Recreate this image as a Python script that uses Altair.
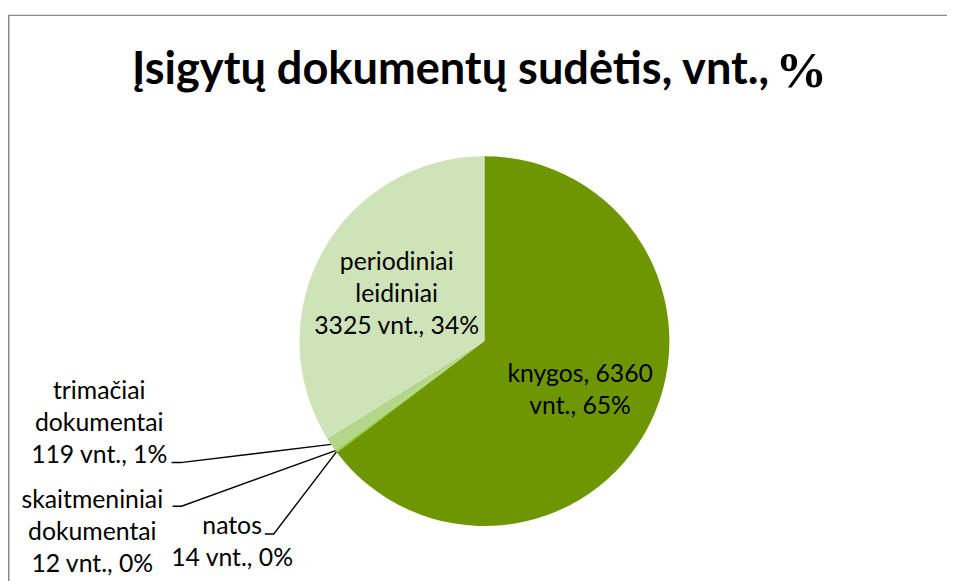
import math
import altair as alt
import pandas as pd

# ---- data ----
categories = ["knygos", "natos", "skaitmeniniai dokumentai", "trimačiai dokumentai", "periodiniai leidiniai"]
values = [6360, 14, 12, 119, 3325]
percent_labels = ["65%", "0%", "0%", "1%", "34%"]
label_texts = [
    "knygos, 6360\nvnt., 65%",
    "natos\n14 vnt., 0%",
    "skaitmeniniai\ndokumentai\n12 vnt., 0%",
    "trimačiai\ndokumentai\n119 vnt., 1%",
    "periodiniai\nleidiniai\n3325 vnt., 34%",
]
colors = ["#6E9600", "#8DC63F", "#9ACD4A", "#B3D68A", "#CFE3B9"]
title_text = "Įsigytų dokumentų sudėtis, vnt., "

# ---- layout (chart coordinates = page coordinates - 8) ----
W, H = 947, 573
CX, CY, R = 480.5, 333.5, 186.5
label_pos = [(577, 367), (226, 520), (85, 494), (92, 384), (392, 254)]
leader_start = {1: (259, 528), 2: (166, 500), 3: (165, 456)}

df = pd.DataFrame({
    "cat": categories,
    "value": values,
    "order": list(range(len(categories))),
    "label": label_texts,
    "lx": [p[0] for p in label_pos],
    "ly": [p[1] for p in label_pos],
})

# leader lines: from label anchor to slice edge at its mid-angle
total = sum(values)
rows = []
cum = 0
for i, v in enumerate(values):
    mid = (cum + v / 2) / total * 2 * math.pi
    cum += v
    if i in leader_start:
        sx, sy = leader_start[i]
        ex = CX + R * math.sin(mid)
        ey = CY - R * math.cos(mid)
        rows += [
            {"id": i, "k": 0, "x": sx, "y": sy},
            {"id": i, "k": 1, "x": sx + 9, "y": sy},
            {"id": i, "k": 2, "x": ex, "y": ey},
        ]
leaders = pd.DataFrame(rows)

frame_top = alt.Chart(pd.DataFrame({"a": [0]})).mark_rule(
    color="#8a8a8a", strokeWidth=1.5
).encode(x=alt.value(0), x2=alt.value(W + 60), y=alt.value(5))
frame_left = alt.Chart(pd.DataFrame({"a": [0]})).mark_rule(
    color="#8a8a8a", strokeWidth=1.5
).encode(x=alt.value(0.75), y=alt.value(5), y2=alt.value(H + 60))

pie = alt.Chart(df).mark_arc(radius=R, x=CX, y=CY, strokeWidth=0).encode(
    theta=alt.Theta("value:Q", stack=True),
    order=alt.Order("order:Q"),
    color=alt.Color("cat:N", scale=alt.Scale(domain=categories, range=colors), legend=None),
)

lines = alt.Chart(leaders).mark_line(color="#000000", strokeWidth=1.4).encode(
    x=alt.X("x:Q", scale=None),
    y=alt.Y("y:Q", scale=None),
    detail="id:N",
    order="k:Q",
)

labels = alt.Chart(df).mark_text(
    font="Lato", fontSize=25, color="#000000", align="center", baseline="middle",
    lineBreak="\n", lineHeight=32,
).encode(
    x=alt.X("lx:Q", scale=None),
    y=alt.Y("ly:Q", scale=None),
    text="label:N",
)

title = alt.Chart(pd.DataFrame({"t": [title_text]})).mark_text(
    font="Lato", fontSize=45.5, fontWeight="bold", color="#000000", align="left", baseline="middle"
).encode(x=alt.value(125), y=alt.value(60), text="t:N")

pct = alt.Chart(pd.DataFrame({"t": ["%"]})).mark_text(
    font="Liberation Serif", fontSize=52, fontWeight="bold", color="#000000", align="left", baseline="middle"
).encode(x=alt.value(774), y=alt.value(61), text="t:N")

chart = alt.layer(frame_top, frame_left, pie, lines, labels, title, pct).properties(
    width=W, height=H, padding=0, autosize=alt.AutoSizeParams(type="none")
).configure_view(stroke=None)

chart.save("out.html", embed_options={"renderer": "svg", "actions": False})
